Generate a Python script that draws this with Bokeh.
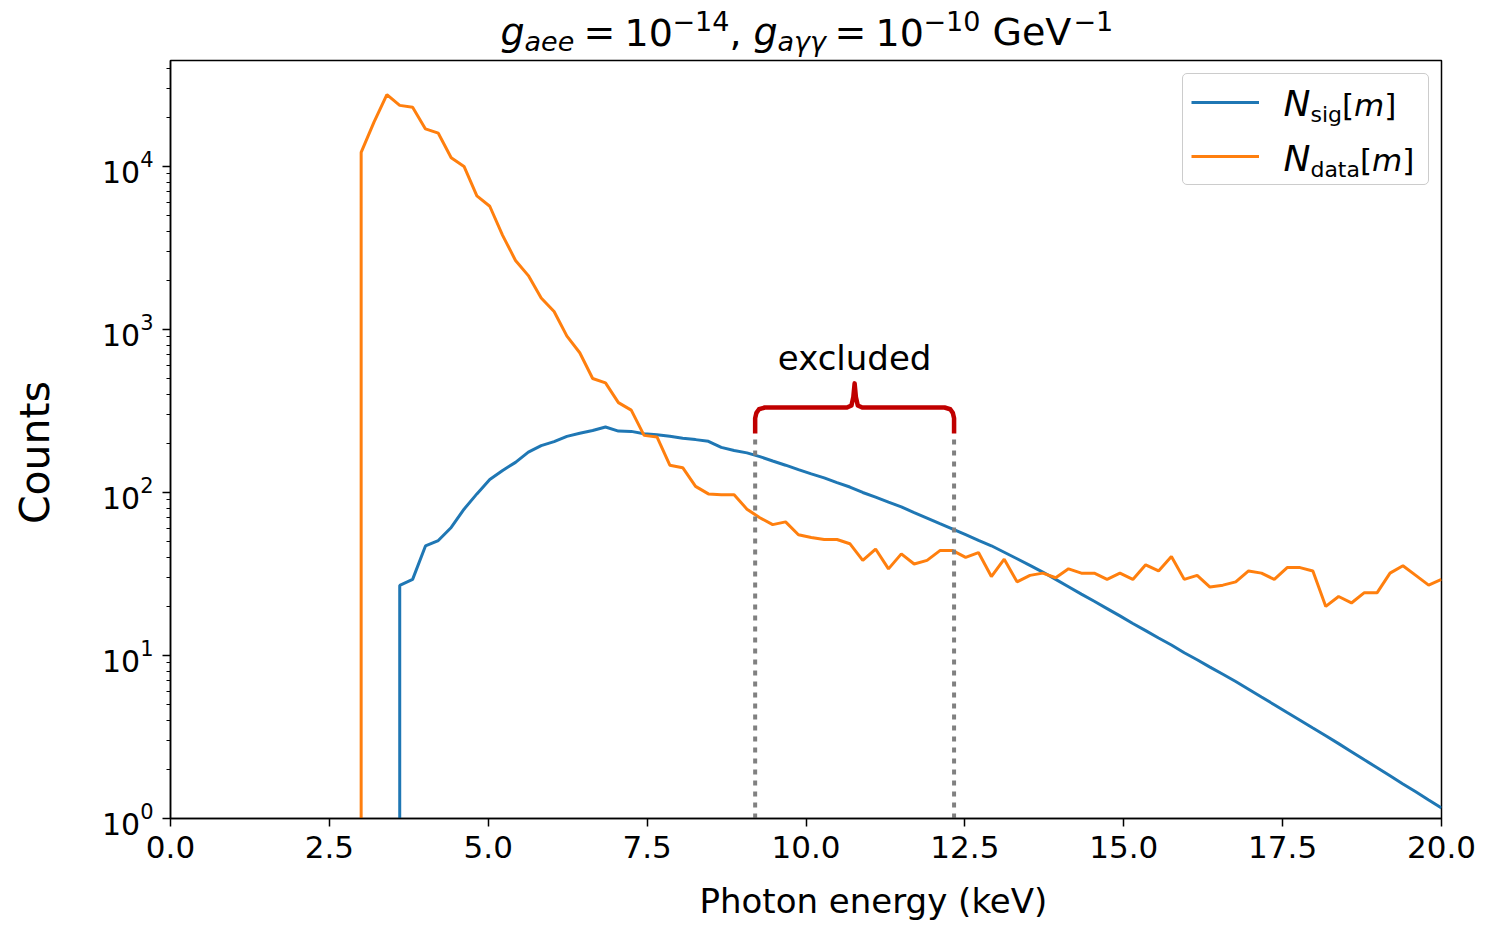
import math
from bokeh.plotting import figure
from bokeh.layouts import column
from bokeh.models import (Range1d, FixedTicker, LogTickFormatter, PrintfTickFormatter,
                          Label, Legend, LegendItem, Title)
from bokeh.embed import file_html
from bokeh.resources import INLINE

# ---------------- data ----------------
energy = [3.0, 3.202, 3.405, 3.607, 3.81, 4.012, 4.214, 4.417, 4.619, 4.821,
          5.024, 5.226, 5.429, 5.631, 5.833, 6.036, 6.238, 6.44, 6.643, 6.845,
          7.048, 7.25, 7.452, 7.655, 7.857, 8.06, 8.262, 8.464, 8.667, 8.869,
          9.071, 9.274, 9.476, 9.679, 9.881, 10.083, 10.286, 10.488, 10.69, 10.893,
          11.095, 11.298, 11.5, 11.702, 11.905, 12.107, 12.31, 12.512, 12.714, 12.917,
          13.119, 13.321, 13.524, 13.726, 13.929, 14.131, 14.333, 14.536, 14.738, 14.94,
          15.143, 15.345, 15.548, 15.75, 15.952, 16.155, 16.357, 16.56, 16.762, 16.964,
          17.167, 17.369, 17.571, 17.774, 17.976, 18.179, 18.381, 18.583, 18.786, 18.988,
          19.19, 19.393, 19.595, 19.798, 20.0]

n_data = [12200, 18700, 27600, 23700, 23100, 17000, 16000, 11300, 10000, 6600,
          5700, 3780, 2650, 2140, 1560, 1290, 910, 720, 500, 470,
          356, 320, 224, 219, 147, 142, 109, 98, 97, 97,
          79, 70, 63.5, 66, 55, 53, 51.5, 51.5, 48.5, 38.3,
          45, 34, 42, 36.4, 38.3, 44, 44, 40, 42.8, 30.5,
          39, 28.3, 31, 32, 30, 34, 32, 32, 29.3, 32,
          29.3, 36, 33, 40.5, 29.3, 31, 26.3, 27, 28.3, 33,
          32, 29.3, 34.6, 34.6, 33, 20, 23, 21, 24.3, 24.3,
          32, 35.5, 31, 27, 29.3]

sig_start = 3  # N_sig starts at the 4th energy bin
n_sig = [26.9, 29.3, 47, 50.7, 61, 79, 98, 120, 136.5, 153,
         177, 194, 205, 221, 231, 240, 252, 238, 237, 229,
         226, 221, 215, 211, 206, 189, 181, 175, 166, 156,
         147, 138, 130, 123, 115, 108, 100, 93.6, 87.3, 81.5,
         75.3, 69.7, 64.4, 59.6, 55.1, 50.9, 47.1, 43.0, 39.2, 35.7,
         32.5, 29.3, 26.4, 23.8, 21.5, 19.4, 17.5, 15.7, 14.2, 12.8,
         11.6, 10.4, 9.42, 8.49, 7.67, 6.92, 6.21, 5.56, 4.99, 4.47,
         4.01, 3.59, 3.22, 2.88, 2.57, 2.29, 2.05, 1.83, 1.63, 1.46,
         1.30, 1.16]

x_ticks = [0.0, 2.5, 5.0, 7.5, 10.0, 12.5, 15.0, 17.5, 20.0]
y_ticks = [1, 10, 100, 1000, 10000]
excl_lo, excl_hi = 9.2, 12.33
excl_text = "excluded"
x_label = "Photon energy (keV)"
y_label = "Counts"

# ---------------- style ----------------
BLUE, ORANGE, RED, GREY = "#1f77b4", "#ff7f0e", "#c00000", "#808080"
FONT = "DejaVu Sans"
Y_TOP = 10 ** 4.65
BELOW = 0.2          # a value below the axis: the curves drop out of the frame
K = 0.4              # empirical baseline correction (fraction of font size)
BL, BR = 170, 52     # left / right borders (page px)
FW, FH = 1271, 758   # frame size
TITLE_H = 58
FL, FB = 170, 818    # frame left / bottom on the page

# ---------------- title strip (rich text) ----------------
tf = figure(frame_width=FW, frame_height=TITLE_H,
            min_border_left=BL, min_border_right=BR, min_border_top=0, min_border_bottom=0,
            x_range=Range1d(0, 1), y_range=Range1d(0, 1),
            x_axis_location=None, y_axis_location=None,
            output_backend="svg", toolbar_location=None)
tf.outline_line_color = None
tf.xgrid.visible = False
tf.ygrid.visible = False
tf.background_fill_color = "white"
tf.border_fill_color = "white"

def tlab(text, px, py, size, style="normal"):
    tf.add_layout(Label(x=px - BL, y=TITLE_H - py + K * size, x_units="screen", y_units="screen",
                        text=text, text_font=FONT, text_font_size=f"{size}px",
                        text_font_style=style, text_color="black",
                        text_align="left", text_baseline="alphabetic"))

MB, SB, PB = 47, 52, 31
title_parts = [("g", 500, MB, 38, "italic"), ("aee", 524, SB, 27, "italic"),
               ("=", 583, MB, 38, "normal"), ("10", 624, MB, 38, "normal"),
               ("\u221214", 672, PB, 27, "normal"), (",", 729, MB, 38, "normal"),
               ("g", 753, MB, 38, "italic"), ("a\u03b3\u03b3", 777, SB, 27, "italic"),
               ("=", 834, MB, 38, "normal"), ("10", 875, MB, 38, "normal"),
               ("\u221210", 923, PB, 27, "normal"), ("GeV", 992, MB, 38, "normal"),
               ("\u22121", 1073, PB, 27, "normal")]
for t, px, py, s, st in title_parts:
    tlab(t, px, py, s, st)

# ---------------- main plot ----------------
p = figure(frame_width=FW, frame_height=FH,
           min_border_left=BL, min_border_right=BR, min_border_top=2, min_border_bottom=0,
           x_range=Range1d(0, 20), y_range=Range1d(1, Y_TOP), y_axis_type="log",
           output_backend="svg", toolbar_location=None)
p.background_fill_color = "white"
p.border_fill_color = "white"
p.outline_line_color = "black"
p.outline_line_width = 1.5
p.xgrid.visible = False
p.ygrid.visible = False

x_sig = [energy[sig_start]] + energy[sig_start:]
y_sig = [BELOW] + n_sig
x_dat = [energy[0]] + energy
y_dat = [BELOW] + n_data
r_sig = p.line(x_sig, y_sig, line_color=BLUE, line_width=3)
r_dat = p.line(x_dat, y_dat, line_color=ORANGE, line_width=3)

# excluded region: dotted lines + brace
y_brace_low, y_brace, y_spike = 230, 332, 467
p.segment(x0=[excl_lo, excl_hi], y0=[1, 1], x1=[excl_lo, excl_hi], y1=[y_brace_low, y_brace_low],
          line_color=GREY, line_width=4, line_dash="5 6")
mid = 0.5 * (excl_lo + excl_hi)
bx = [excl_lo, excl_lo, excl_lo + 0.02, excl_lo + 0.06, excl_lo + 0.15,
      mid - 0.12, mid - 0.05, mid - 0.02, mid,
      mid + 0.02, mid + 0.05, mid + 0.12,
      excl_hi - 0.15, excl_hi - 0.06, excl_hi - 0.02, excl_hi, excl_hi]
by = [y_brace_low, 285, 308, 324, y_brace,
      y_brace, 342, 385, y_spike,
      385, 342, y_brace,
      y_brace, 324, 308, 285, y_brace_low]
p.line(bx, by, line_color=RED, line_width=4.5, line_join="round", line_cap="butt")
p.add_layout(Label(x=mid, y=670, text=excl_text, text_align="center", text_baseline="alphabetic",
                   text_font=FONT, text_font_size="34px", text_color="black", level="overlay"))

# axes
p.xaxis.ticker = FixedTicker(ticks=x_ticks)
p.xaxis.formatter = PrintfTickFormatter(format="%.1f")
minor = [m * 10 ** k for k in range(0, 5) for m in range(2, 10) if m * 10 ** k < Y_TOP]
p.yaxis.ticker = FixedTicker(ticks=y_ticks, minor_ticks=minor)
p.yaxis.formatter = LogTickFormatter()
for ax in (p.xaxis, p.yaxis):
    ax.axis_line_color = "black"
    ax.axis_line_width = 1.5
    ax.major_tick_line_color = "black"
    ax.major_tick_line_width = 1.5
    ax.major_tick_in = 0
    ax.major_tick_out = 8
    ax.major_label_text_font = FONT
    ax.major_label_text_color = "black"
p.xaxis.minor_tick_line_color = None
p.xaxis.major_label_text_font_size = "31px"
p.xaxis.major_label_standoff = 9
p.yaxis.minor_tick_line_color = "black"
p.yaxis.minor_tick_line_width = 1.2
p.yaxis.minor_tick_in = 0
p.yaxis.minor_tick_out = 4
p.yaxis.major_label_text_font_size = "30px"
p.yaxis.major_label_standoff = 9

# y axis title; two no-break spaces push the centred word down a little, as in the reference
p.yaxis.axis_label = y_label + "\u00a0\u00a0"
p.yaxis.axis_label_text_font = FONT
p.yaxis.axis_label_text_font_size = "41px"
p.yaxis.axis_label_text_font_style = "normal"
p.yaxis.axis_label_text_color = "black"
p.yaxis.axis_label_standoff = 40

# x axis title (offset to the right like in the reference)
p.add_layout(Title(text=x_label, align="left", offset=529, standoff=36,
                   text_font=FONT, text_font_size="34px", text_font_style="normal",
                   text_color="black"), "below")

# legend (box + line samples from Bokeh, labels as rich text)
legend = Legend(items=[LegendItem(label=" ", renderers=[r_sig]),
                       LegendItem(label="  ", renderers=[r_dat])],
                location=(1182 - FL, FB - 185), orientation="vertical",
                glyph_width=68, glyph_height=40, label_height=40, label_width=161,
                label_standoff=0, spacing=14, padding=8, margin=0,
                label_text_font_size="2px",
                border_line_color="#cccccc", border_line_width=1.5, border_line_alpha=1.0,
                background_fill_alpha=0.0)
if "border_radius" in Legend.properties():
    legend.border_radius = 5
p.add_layout(legend)

def lab(text, px, py, size, style="normal"):
    p.add_layout(Label(x=px - FL, y=FB - py + K * size, x_units="screen", y_units="screen",
                       text=text, text_font=FONT, text_font_size=f"{size}px",
                       text_font_style=style, text_color="black",
                       text_align="left", text_baseline="alphabetic", level="overlay"))

W = {"N": .748, "s": .521, "i": .278, "g": .635, "d": .635, "a": .613, "t": .392,
     "[": .390, "m": .974, "]": .390}
def width(t, size):
    return sum(W[c] for c in t) * size

def legend_text(sub, base_y):
    x = 1283
    lab("N", x, base_y, 36, "italic"); x += width("N", 36)
    lab(sub, x, base_y + 6, 22); x += width(sub, 22)
    lab("[", x, base_y, 31); x += width("[", 31)
    lab("m", x, base_y, 31, "italic"); x += width("m", 31)
    lab("]", x, base_y, 31)

legend_text("sig", 117)
legend_text("data", 172)

layout = column(tf, p, spacing=0)
open("out.html", "w").write(file_html(layout, INLINE))
